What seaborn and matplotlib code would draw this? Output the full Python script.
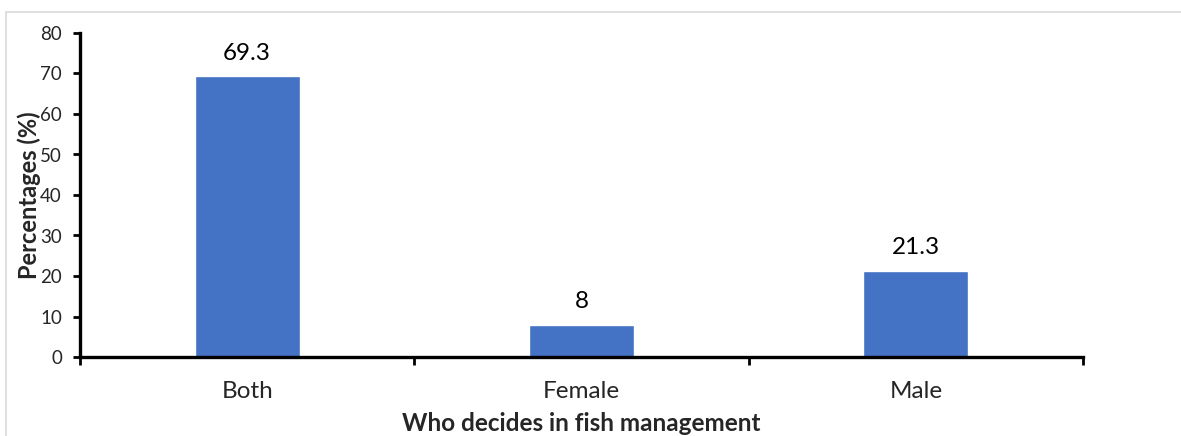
import matplotlib
matplotlib.use("Agg")
import matplotlib.pyplot as plt
import seaborn as sns
import pandas as pd
from matplotlib.patches import Rectangle

# data
categories = ["Both", "Female", "Male"]
percentages = [69.3, 8, 21.3]
value_labels = ["69.3", "8", "21.3"]
y_ticks = [0, 10, 20, 30, 40, 50, 60, 70, 80]

df = pd.DataFrame({"who": categories, "pct": percentages})

sns.set_style("white")
plt.rcParams["font.family"] = ["Lato", "DejaVu Sans"]

fig = plt.figure(figsize=(11.81, 4.36), dpi=100)
ax = fig.add_axes([80 / 1181, 1 - 357 / 436, (1083 - 80) / 1181, (357 - 33) / 436])

sns.barplot(data=df, x="who", y="pct", color="#4472C4", width=0.314,
            saturation=1, ax=ax)

for i, (v, lab) in enumerate(zip(percentages, value_labels)):
    ax.annotate(lab, (i, v), xytext=(0, 12), textcoords="offset points",
                ha="center", va="baseline", fontsize=17.5, color="black")

ax.set_xlim(-0.5, 2.5)
ax.set_ylim(0, 80)
ax.set_yticks(y_ticks)
ax.tick_params(axis="y", direction="out", length=5, width=2, pad=8,
               labelsize=13.5, left=True, color="black")
ax.set_xticks([-0.5, 0.5, 1.5, 2.5], minor=True)
ax.tick_params(axis="x", which="minor", direction="out", length=6, width=2,
               bottom=True, color="black")
ax.tick_params(axis="x", which="major", length=0, pad=17, labelsize=17.5)

for side in ["top", "right"]:
    ax.spines[side].set_visible(False)
for side in ["left", "bottom"]:
    ax.spines[side].set_linewidth(2.4)
    ax.spines[side].set_color("black")

ax.set_xlabel("Who decides in fish management", fontsize=17.5, fontweight="bold")
ax.set_ylabel("Percentages (%)", fontsize=17, fontweight="bold")
ax.xaxis.set_label_coords(0.5, -0.17)
ax.yaxis.set_label_coords(-0.039, 0.5)

# light chart-area border like the excel frame
fig.patches.append(Rectangle((6 / 1181, -0.05), 1.0, (436 - 12) / 436 + 0.05,
                             transform=fig.transFigure, fill=False,
                             edgecolor="#d9d9d9", linewidth=1.2))

fig.savefig("out.png", dpi=100)
